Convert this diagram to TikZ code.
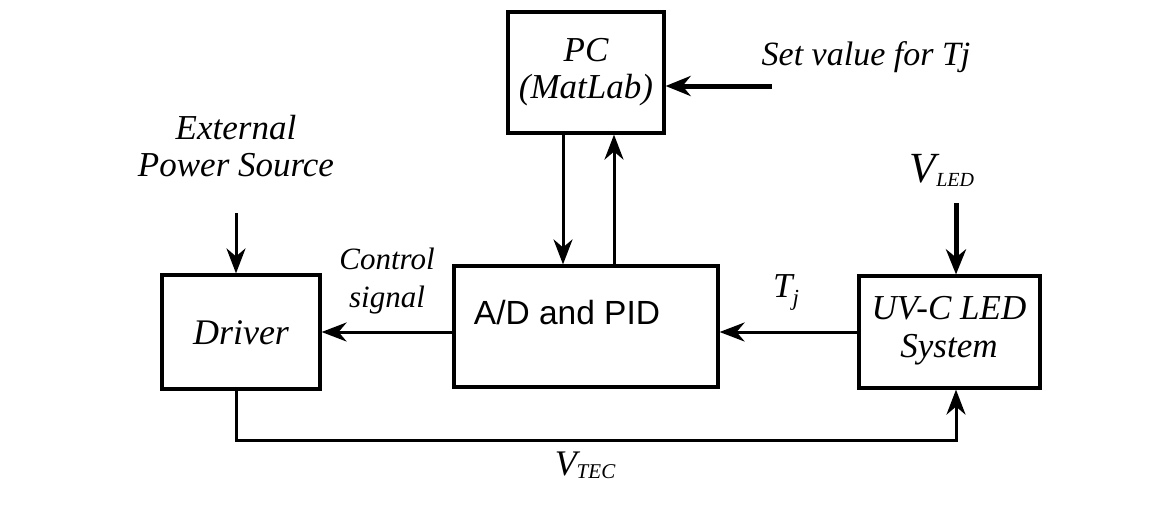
\documentclass[tikz,border=0pt]{standalone}
\usepackage{fontspec}
\setmainfont{Liberation Serif}
\setsansfont{Liberation Sans}
\usetikzlibrary{arrows.meta,calc}
\begin{document}
\begin{tikzpicture}[x=1pt,y=-1pt,
  blk/.style={draw=black,line width=3.2pt,rectangle,inner sep=0pt},
  lbl/.style={font=\fontsize{34}{37}\selectfont\itshape,align=center,inner sep=0pt},
  arr/.style={line width=3pt,-{Stealth[length=25pt,width=19pt,inset=8pt]}},
  thick arr/.style={line width=5pt,-{Stealth[length=25pt,width=20pt,inset=8pt]}}]
\useasboundingbox (0,0) rectangle (1164,531);
% blocks
\node[blk,minimum width=156pt,minimum height=121pt] (PC) at (586,72.5) {};
\node[lbl,font=\fontsize{35}{37}\selectfont\itshape] (PCt) at (586,72) {PC\\(MatLab)};
\node[blk,minimum width=264pt,minimum height=121pt] (AD) at (586,326.5) {};
\node[inner sep=0pt,font=\fontsize{33.5}{36}\selectfont\sffamily] (ADt) at (567,313) {A/D and PID};
\node[blk,minimum width=158pt,minimum height=114pt] (Drv) at (241,332) {};
\node[lbl,font=\fontsize{36}{38}\selectfont\itshape] (Drvt) at (241,333) {Driver};
\node[blk,minimum width=181pt,minimum height=112pt] (UV) at (949.5,332) {};
\node[lbl,font=\fontsize{35}{38}\selectfont\itshape] (UVt) at (949,331) {UV-C LED\\System};
% free ends
\coordinate (sv) at (772,86);
\coordinate (vl) at (956,203);
\coordinate (ep) at (236,213);
\coordinate (vtc) at (600,440);
% labels
\node[lbl] (svt) at (866,57) {Set value for Tj};
\node[lbl,font=\fontsize{35}{37}\selectfont\itshape] (ept) at (236,146) {External\\Power Source};
\node[lbl,font=\fontsize{31}{38}\selectfont\itshape] (cst) at (387,281) {Control\\signal};
\node[inner sep=0pt,font=\fontsize{35}{36}\selectfont\itshape] (tjt) at (786,292) {T\raisebox{-8pt}{\fontsize{23}{23}\selectfont j}};
\node[inner sep=0pt,font=\fontsize{43}{43}\selectfont\itshape] (vlt) at (942,170) {V\raisebox{-4pt}{\fontsize{20}{20}\selectfont LED}};
\node[inner sep=0pt,font=\fontsize{36}{36}\selectfont\itshape] (vtt) at (585,465) {V\raisebox{-3pt}{\fontsize{21}{21}\selectfont TEC}};
% connectors
\draw[thick arr] (sv) -- (sv -| PC.east);
\draw[arr] ($(PC.south)+(-23,0)$) -- ($(AD.north)+(-23,0)$);
\draw[arr] ($(AD.north)+(28,0)$) -- ($(PC.south)+(28,0)$);
\draw[arr] (ep) -- (ep |- Drv.north);
\draw[arr] (AD.west |- Drv.east) -- (Drv.east);
\draw[arr] (UV.west) -- (UV.west -| AD.east);
\draw[thick arr] (vl) -- (vl |- UV.north);
\draw[arr] (Drv.south -| ep) |- (vtc) -| (UV.south -| vl);
\end{tikzpicture}
\end{document}
